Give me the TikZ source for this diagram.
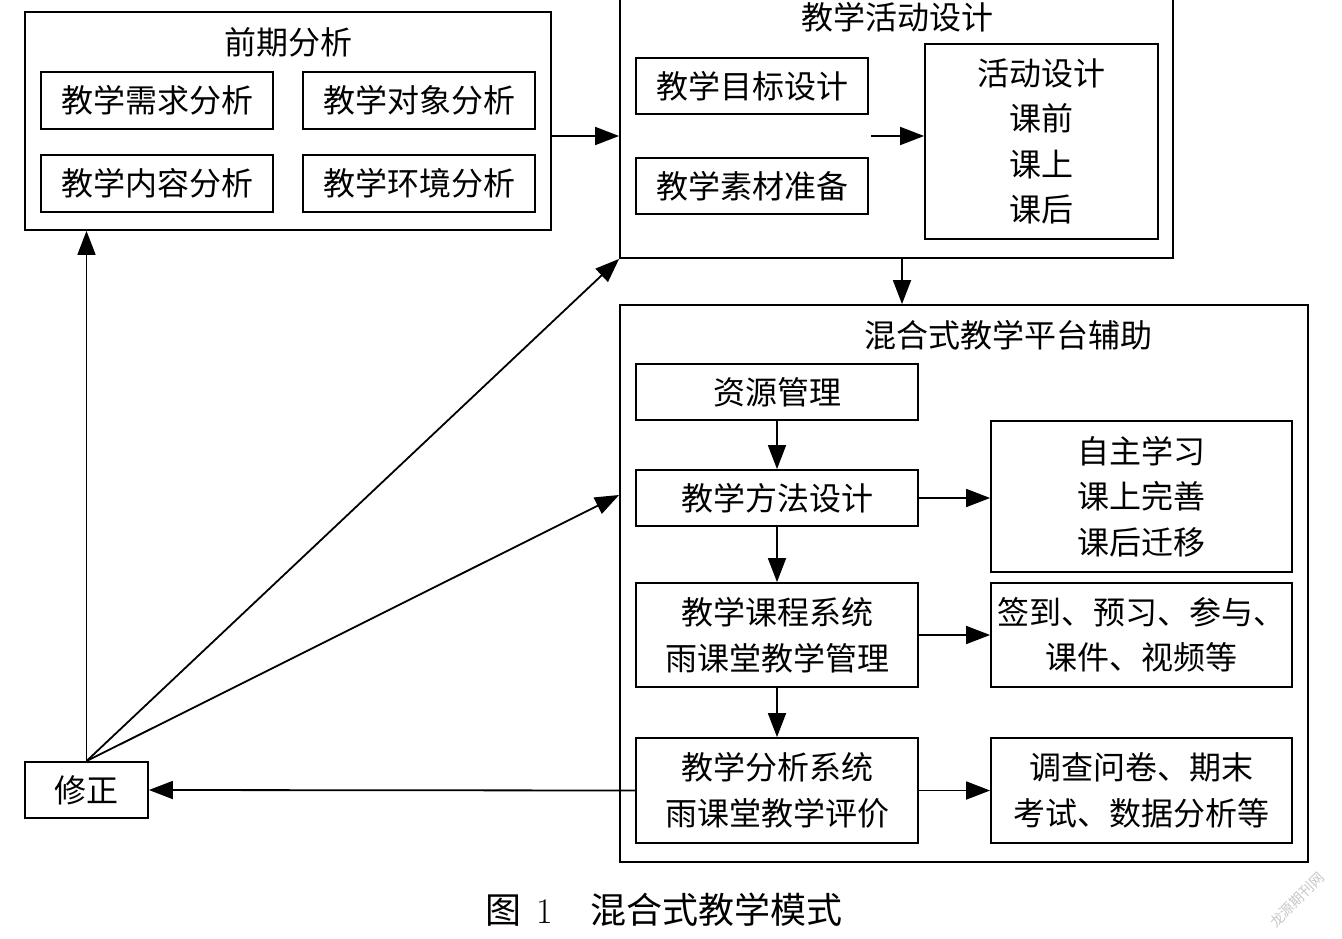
\documentclass[tikz,border=0pt]{standalone}
\usepackage{fontspec}
\newfontfamily\cjk{Noto Sans CJK SC}
\usetikzlibrary{arrows.meta}
\tikzset{
  bx/.style={draw, line width=1.8pt, inner sep=0pt, align=center,
    font=\cjk\fontsize{32}{45.5}\selectfont},
  ttl/.style={inner sep=0pt, font=\cjk\fontsize{32}{38}\selectfont},
  arr/.style={-{Triangle[length=24pt,width=18pt]}, line width=1.8pt},
}
\begin{document}
\begin{tikzpicture}[x=1pt,y=-1pt]
\useasboundingbox (0,0) rectangle (1342,939);
\clip (0,0) rectangle (1342,939);
% 前期分析
\node[bx, minimum width=526pt, minimum height=218pt] (pre) at (288,121) {};
\node[ttl] (pret) at (288,42) {前期分析};
\node[bx, minimum width=232pt, minimum height=57pt] (n1) at (157,100.5) {教学需求分析};
\node[bx, minimum width=232pt, minimum height=57pt] (n2) at (419,100.5) {教学对象分析};
\node[bx, minimum width=232pt, minimum height=57pt] (n3) at (157,183.5) {教学内容分析};
\node[bx, minimum width=232pt, minimum height=57pt] (n4) at (419,183.5) {教学环境分析};
% 教学活动设计
\node[bx, minimum width=553pt, minimum height=268pt] (act) at (896.5,124) {};
\node[ttl] (actt) at (897,17) {教学活动设计};
\node[bx, minimum width=232pt, minimum height=56pt] (ta) at (752,86) {教学目标设计};
\node[bx, minimum width=232pt, minimum height=56pt] (tb) at (752,186) {教学素材准备};
\node[bx, minimum width=233pt, minimum height=195pt] (ac) at (1041.5,141.5) {活动设计\\课前\\课上\\课后};
\coordinate (c1) at (871,136);
% 混合式教学平台辅助
\node[bx, minimum width=688pt, minimum height=557pt] (hx) at (964,583.5) {};
\node[ttl] (hxt) at (1008,335) {混合式教学平台辅助};
\node[bx, minimum width=282pt, minimum height=56pt] (r1) at (777,392) {资源管理};
\node[bx, minimum width=282pt, minimum height=56pt] (r2) at (777,498) {教学方法设计};
\node[bx, minimum width=282pt, minimum height=104pt] (r3) at (777,635) {教学课程系统\\雨课堂教学管理};
\node[bx, minimum width=282pt, minimum height=105pt] (r4) at (777,790.5) {教学分析系统\\雨课堂教学评价};
\node[bx, minimum width=301pt, minimum height=151pt] (s1) at (1141.5,496.5) {自主学习\\课上完善\\课后迁移};
\node[bx, minimum width=301pt, minimum height=104pt] (s2) at (1141.5,635) {签到、预习、参与、\\课件、视频等};
\node[bx, minimum width=301pt, minimum height=105pt] (s3) at (1141.5,790.5) {调查问卷、期末\\考试、数据分析等};
% 修正
\node[bx, minimum width=123pt, minimum height=56pt] (xz) at (86.5,790) {修正};
% arrows
\draw[arr] ([yshift=-15pt]pre.east) -- ([yshift=-15pt]pre.east -| act.west);
\draw[arr] (c1) -- (c1 -| ac.west);
\draw[arr] ([xshift=5.5pt]act.south) -- ([xshift=5.5pt]act.south |- hx.north);
\draw[arr] (r1.south) -- (r2.north);
\draw[arr] (r2.south) -- (r3.north);
\draw[arr] (r3.south) -- (r4.north);
\draw[arr] (r2.east) -- (r2.east -| s1.west);
\draw[arr] (r3.east) -- (s2.west);
\draw[arr] (r4.east) -- (s3.west);
\draw[arr] (r4.west) -- (xz.east);
\draw[arr] (xz.north) -- (xz.north |- pre.south);
\draw[arr] (xz.north) -- (act.south west);
\draw[arr] (xz.north) -- ([yshift=3pt]hx.west |- r2.west);
% caption
\node[inner sep=0pt, font=\cjk\fontsize{36}{40}\selectfont] (cap) at (664,910) {图\hspace{0.4em}{\rmfamily 1}\hspace{1.05em}混合式教学模式};
% watermark
\node[inner sep=0pt, rotate=45, text=black!22, font=\cjk\fontsize{14}{16}\selectfont] (wm) at (1297,900) {龙源期刊网};
\end{tikzpicture}
\end{document}
